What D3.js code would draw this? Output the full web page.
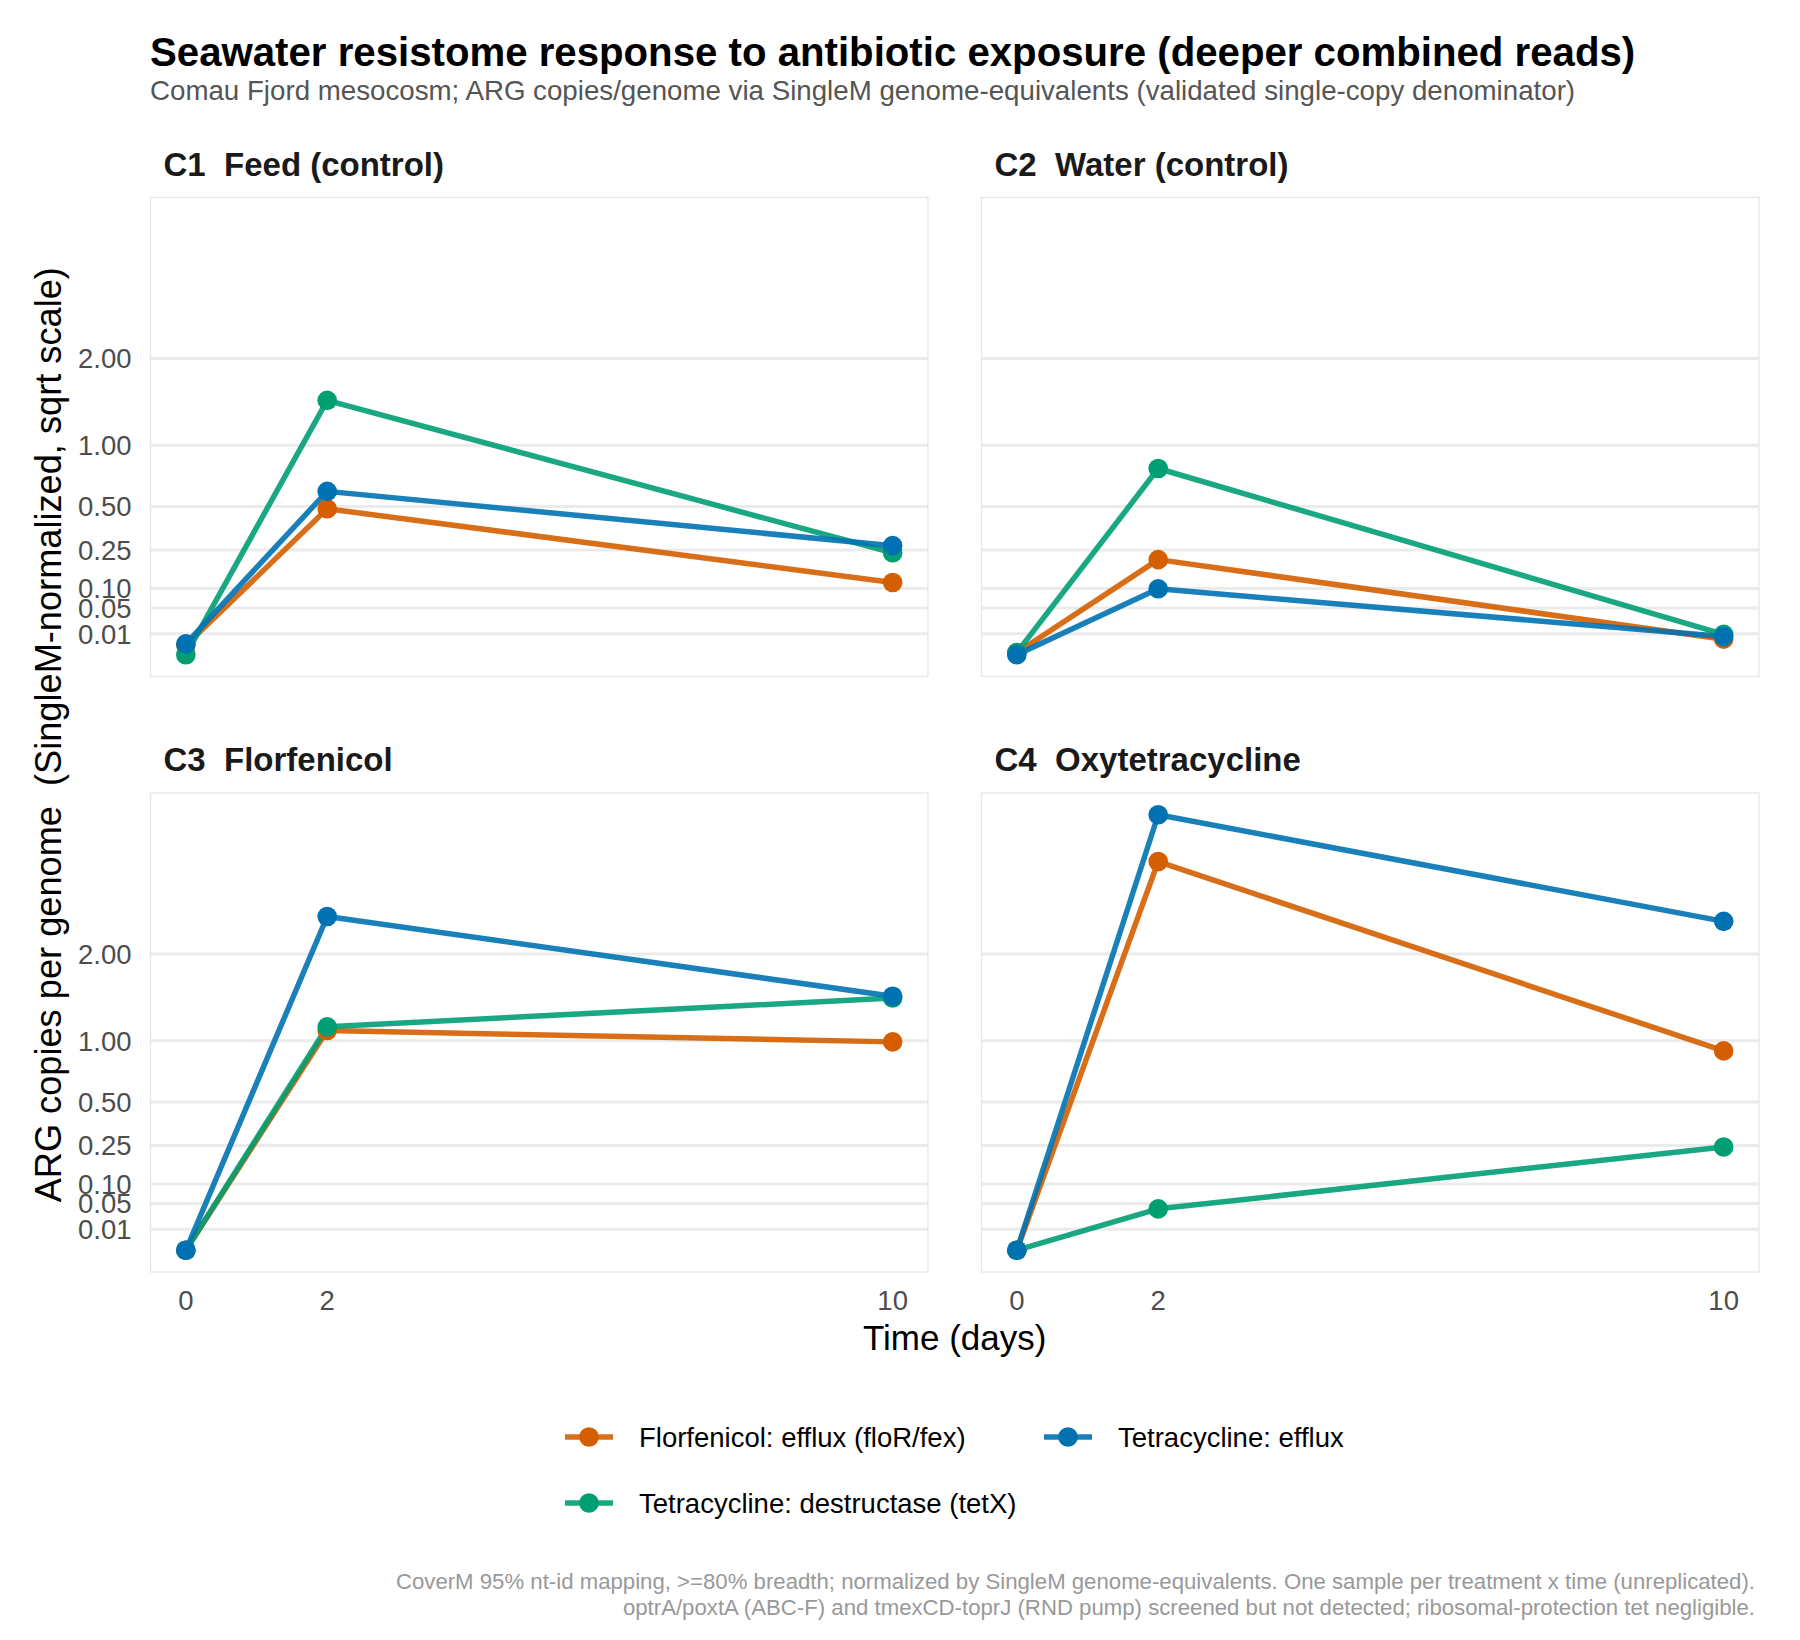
<!DOCTYPE html>
<html>
<head>
<meta charset="utf-8">
<script src="https://cdn.jsdelivr.net/npm/d3@7"></script>
<style>
  html, body { margin: 0; padding: 0; background: #fff; }
  svg { display: block; font-family: "Liberation Sans", Arial, Helvetica, sans-serif; }
  text { white-space: pre; }
</style>
</head>
<body>
<svg id="chart" width="1800" height="1640"></svg>
<script>
// ---------------- data ----------------
const days = [0, 2, 10];
const xTicks = [0, 2, 10];
const yTicks = [0.01, 0.05, 0.10, 0.25, 0.50, 1.00, 2.00];
const panelTitles = ["C1  Feed (control)", "C2  Water (control)", "C3  Florfenicol", "C4  Oxytetracycline"];
const geneNames = ["Florfenicol: efflux (floR/fex)", "Tetracycline: efflux", "Tetracycline: destructase (tetX)"];
const geneColors = ["#D55E00", "#0072B2", "#009E73"];
// values per panel (C1..C4), per day (0, 2, 10)
const florEfflux = [[0.002, 0.485, 0.119], [0.0001, 0.206, 0.0055], [0, 1.100, 0.989], [0, 3.442, 0.905]];
const tetEfflux  = [[0.0027, 0.608, 0.271], [0, 0.099, 0.0075], [0, 2.537, 1.469], [0, 4.32, 2.464]];
const tetX       = [[0, 1.474, 0.237], [0.0001, 0.790, 0.0095], [0, 1.137, 1.449], [0, 0.039, 0.243]];
const seriesValues = [florEfflux, tetEfflux, tetX];
const drawOrder = [0, 2, 1]; // orange, green, blue on top

const titleText = "Seawater resistome response to antibiotic exposure (deeper combined reads)";
const subtitleText = "Comau Fjord mesocosm; ARG copies/genome via SingleM genome-equivalents (validated single-copy denominator)";
const yTitle = "ARG copies per genome  (SingleM-normalized, sqrt scale)";
const xTitle = "Time (days)";
const caption1 = "CoverM 95% nt-id mapping, >=80% breadth; normalized by SingleM genome-equivalents. One sample per treatment x time (unreplicated).";
const caption2 = "optrA/poxtA (ABC-F) and tmexCD-toprJ (RND pump) screened but not detected; ribosomal-protection tet negligible.";

// ---------------- layout ----------------
const svg = d3.select("#chart");
const colX = [150.5, 981.5];
const rowY = [197.5, 793];
const pW = 777.5, pH = 479;

const allVals = seriesValues.flat(2);
const sMax = Math.sqrt(d3.max(allVals));
const lo = -0.05 * sMax, hi = 1.05 * sMax;
const ySqrtDomain = [-(lo * lo), hi * hi];

const tickColor = "#4D4D4D";

// title
svg.append("text").attr("x", 150).attr("y", 66)
  .attr("font-size", 40.2).attr("font-weight", "bold").attr("fill", "#000")
  .text(titleText);
svg.append("text").attr("x", 150).attr("y", 100)
  .attr("font-size", 27.7).attr("fill", "#555555")
  .text(subtitleText);

const line = d3.line();

panelTitles.forEach((pt, i) => {
  const c = i % 2, r = Math.floor(i / 2);
  const x0 = colX[c], y0 = rowY[r];
  const x = d3.scaleLinear().domain([-0.5, 10.5]).range([x0, x0 + pW]);
  const y = d3.scaleSqrt().domain(ySqrtDomain).range([y0 + pH, y0]);
  const g = svg.append("g");

  // gridlines
  g.selectAll("line.grid").data(yTicks).join("line")
    .attr("x1", x0).attr("x2", x0 + pW)
    .attr("y1", d => y(d)).attr("y2", d => y(d))
    .attr("stroke", "#EBEBEB").attr("stroke-width", 3);

  // panel border
  g.append("rect").attr("x", x0).attr("y", y0).attr("width", pW).attr("height", pH)
    .attr("fill", "none").attr("stroke", "#E6E6E6").attr("stroke-width", 1.3);

  // strip title
  g.append("text").attr("x", x0 + 13).attr("y", y0 - 22)
    .attr("font-size", 33).attr("font-weight", "bold").attr("fill", "#1A1A1A")
    .text(pt);

  // y tick labels (first column)
  if (c === 0) {
    g.selectAll("text.yt").data(yTicks).join("text")
      .attr("x", x0 - 19).attr("y", d => y(d)).attr("dy", "0.36em")
      .attr("text-anchor", "end").attr("font-size", 27.5).attr("fill", tickColor)
      .text(d => d3.format(".2f")(d));
  }
  // x tick labels (bottom row)
  if (r === 1) {
    g.selectAll("text.xt").data(xTicks).join("text")
      .attr("x", d => x(d)).attr("y", y0 + pH + 38)
      .attr("text-anchor", "middle").attr("font-size", 27.5).attr("fill", tickColor)
      .text(d => d);
  }

  // lines
  drawOrder.forEach(s => {
    const vals = seriesValues[s][i];
    g.append("path")
      .attr("d", line(days.map((d, k) => [x(d), y(vals[k])])))
      .attr("fill", "none").attr("stroke", geneColors[s]).attr("stroke-opacity", 0.9)
      .attr("stroke-width", 5.5).attr("stroke-linejoin", "round");
  });
  // points
  drawOrder.forEach(s => {
    const vals = seriesValues[s][i];
    g.selectAll(null).data(days.map((d, k) => [d, vals[k]])).join("circle")
      .attr("cx", d => x(d[0])).attr("cy", d => y(d[1])).attr("r", 9.8)
      .attr("fill", geneColors[s]);
  });
});

// axis titles
svg.append("text").attr("transform", `translate(61,${(rowY[0] + rowY[1] + pH) / 2}) rotate(-90)`)
  .attr("text-anchor", "middle").attr("font-size", 36.2).attr("fill", "#000")
  .text(yTitle);
svg.append("text").attr("x", (colX[0] + colX[1] + pW) / 2).attr("y", 1350)
  .attr("text-anchor", "middle").attr("font-size", 35).attr("fill", "#000")
  .text(xTitle);

// legend
const legendPos = [[589, 1437], [1068, 1437], [589, 1503]];
geneNames.forEach((name, s) => {
  const [cx, cy] = legendPos[s];
  const lg = svg.append("g");
  lg.append("line").attr("x1", cx - 24).attr("x2", cx + 24).attr("y1", cy).attr("y2", cy)
    .attr("stroke", geneColors[s]).attr("stroke-opacity", 0.9).attr("stroke-width", 5.5);
  lg.append("circle").attr("cx", cx).attr("cy", cy).attr("r", 9.8).attr("fill", geneColors[s]);
  lg.append("text").attr("x", cx + 50).attr("y", cy).attr("dy", "0.36em")
    .attr("font-size", 27.5).attr("fill", "#000").text(name);
});

// caption
svg.append("text").attr("x", 1755).attr("y", 1589).attr("text-anchor", "end")
  .attr("font-size", 22.2).attr("fill", "#999999").text(caption1);
svg.append("text").attr("x", 1755).attr("y", 1615).attr("text-anchor", "end")
  .attr("font-size", 22.2).attr("fill", "#999999").text(caption2);
</script>
</body>
</html>
